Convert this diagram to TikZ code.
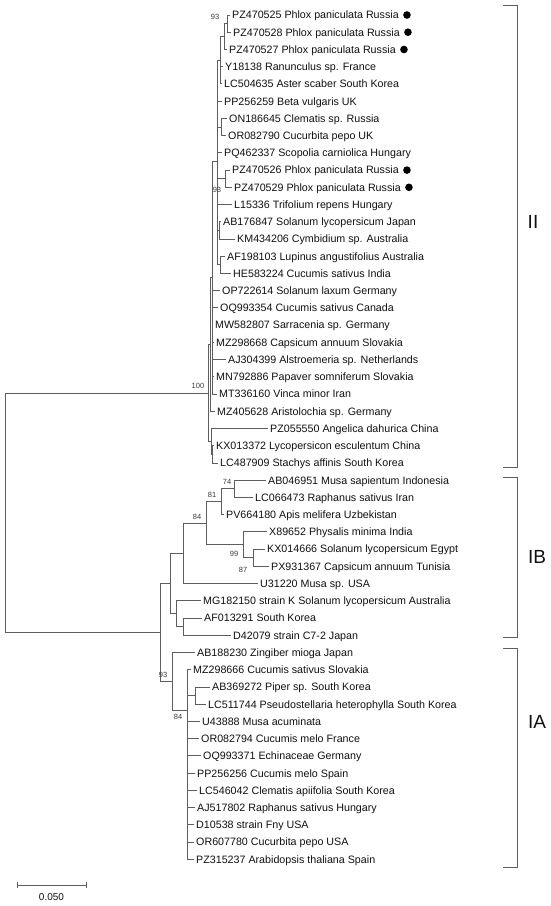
\documentclass[tikz,border=0pt]{standalone}
\usepackage{fontspec}
\setmainfont{Liberation Sans}
\definecolor{linegray}{HTML}{5E5E5E}
\definecolor{txt}{HTML}{111111}
\definecolor{bsgray}{HTML}{3A3A3A}
\begin{document}
\begin{tikzpicture}[x=1pt,y=-1pt,
  br/.style={draw=linegray, line width=0.9pt},
  leaf/.style={anchor=west, inner sep=0pt, text=txt, font=\fontsize{10.7}{12}\selectfont, text height=7.7pt, text depth=0pt},
  bs/.style={inner sep=0pt, text=bsgray, font=\fontsize{7.5}{8}\selectfont},
  dotmark/.style={circle, fill=black, inner sep=0pt, minimum size=7.6pt},
  grp/.style={inner sep=0pt, text=txt, font=\fontsize{19}{20}\selectfont},
  brk/.style={draw=linegray, line width=0.9pt}]
\useasboundingbox[fill=white] (0,0) rectangle (550,906);

% ---------- leaves ----------
\node[leaf] (l1)  at (232,15)    {PZ470525 Phlox paniculata Russia};
\node[leaf] (l2)  at (233,32.2)  {PZ470528 Phlox paniculata Russia};
\node[leaf] (l3)  at (229,49.5)  {PZ470527 Phlox paniculata Russia};
\node[leaf] (l4)  at (225,66.7)  {Y18138 Ranunculus sp. France};
\node[leaf] (l5)  at (224,83.9)  {LC504635 Aster scaber South Korea};
\node[leaf] (l6)  at (224,101.2) {PP256259 Beta vulgaris UK};
\node[leaf] (l7)  at (229,118.4) {ON186645 Clematis sp. Russia};
\node[leaf] (l8)  at (228,135.6) {OR082790 Cucurbita pepo UK};
\node[leaf] (l9)  at (224,152.8) {PQ462337 Scopolia carniolica Hungary};
\node[leaf] (l10) at (232,170.1) {PZ470526 Phlox paniculata Russia};
\node[leaf] (l11) at (234,187.3) {PZ470529 Phlox paniculata Russia};
\node[leaf] (l12) at (234,204.5) {L15336 Trifolium repens Hungary};
\node[leaf] (l13) at (223,221.8) {AB176847 Solanum lycopersicum Japan};
\node[leaf] (l14) at (237,239)   {KM434206 Cymbidium sp. Australia};
\node[leaf] (l15) at (227,256.2) {AF198103 Lupinus angustifolius Australia};
\node[leaf] (l16) at (233,273.5) {HE583224 Cucumis sativus India};
\node[leaf] (l17) at (222,290.7) {OP722614 Solanum laxum Germany};
\node[leaf] (l18) at (220,307.9) {OQ993354 Cucumis sativus Canada};
\node[leaf] (l19) at (215,325.1) {MW582807 Sarracenia sp. Germany};
\node[leaf] (l20) at (216,342.4) {MZ298668 Capsicum annuum Slovakia};
\node[leaf] (l21) at (228,359.6) {AJ304399 Alstroemeria sp. Netherlands};
\node[leaf] (l22) at (216,376.8) {MN792886 Papaver somniferum Slovakia};
\node[leaf] (l23) at (219,394.1) {MT336160 Vinca minor Iran};
\node[leaf] (l24) at (217,411.3) {MZ405628 Aristolochia sp. Germany};
\node[leaf] (l25) at (270,428.5) {PZ055550 Angelica dahurica China};
\node[leaf] (l26) at (216,445.8) {KX013372 Lycopersicon esculentum China};
\node[leaf] (l27) at (220,463)   {LC487909 Stachys affinis South Korea};
\node[leaf] (l28) at (268,480.2) {AB046951 Musa sapientum Indonesia};
\node[leaf] (l29) at (255,497.4) {LC066473 Raphanus sativus Iran};
\node[leaf] (l30) at (226,514.6) {PV664180 Apis melifera Uzbekistan};
\node[leaf] (l31) at (269,531.9) {X89652 Physalis minima India};
\node[leaf] (l32) at (267,549.1) {KX014666 Solanum lycopersicum Egypt};
\node[leaf] (l33) at (271,566.3) {PX931367 Capsicum annuum Tunisia};
\node[leaf] (l34) at (260,583.6) {U31220 Musa sp. USA};
\node[leaf] (l35) at (203,600.8) {MG182150 strain K Solanum lycopersicum Australia};
\node[leaf] (l36) at (204,618)   {AF013291 South Korea};
\node[leaf] (l37) at (233,635.3) {D42079 strain C7-2 Japan};
\node[leaf] (l38) at (197,652.5) {AB188230 Zingiber mioga Japan};
\node[leaf] (l39) at (193,669.8) {MZ298666 Cucumis sativus Slovakia};
\node[leaf] (l40) at (212,687)   {AB369272 Piper sp. South Korea};
\node[leaf] (l41) at (208,704.2) {LC511744 Pseudostellaria heterophylla South Korea};
\node[leaf] (l42) at (202,721.5) {U43888 Musa acuminata};
\node[leaf] (l43) at (201,738.7) {OR082794 Cucumis melo France};
\node[leaf] (l44) at (203,755.9) {OQ993371 Echinaceae Germany};
\node[leaf] (l45) at (197,773.2) {PP256256 Cucumis melo Spain};
\node[leaf] (l46) at (199,790.4) {LC546042 Clematis apiifolia South Korea};
\node[leaf] (l47) at (197,807.6) {AJ517802 Raphanus sativus Hungary};
\node[leaf] (l48) at (196,824.9) {D10538 strain Fny USA};
\node[leaf] (l49) at (196,842.1) {OR607780 Cucurbita pepo USA};
\node[leaf] (l50) at (196,859.3) {PZ315237 Arabidopsis thaliana Spain};

% ---------- dots ----------
\node[dotmark] (d1)  at ([xshift=8pt]l1.east)  {};
\node[dotmark] (d2)  at ([xshift=8pt]l2.east)  {};
\node[dotmark] (d3)  at ([xshift=8pt]l3.east)  {};
\node[dotmark] (d10) at ([xshift=8pt]l10.east) {};
\node[dotmark] (d11) at ([xshift=8pt]l11.east) {};

% ---------- internal nodes ----------
\coordinate (root) at (5,512.7);
\coordinate (nII)  at (208,393);
\coordinate (U)    at (210,344.5);
\coordinate (Ua)   at (212,277.7);
\coordinate (X)    at (217,161.3);
\coordinate (W)    at (220,60.3);
\coordinate (T3)   at (224,36.6);
\coordinate (n93)  at (227,23.6);
\coordinate (ONOR) at (221,127);
\coordinate (Ph2)  at (225,178.7);
\coordinate (ABKM) at (219,230.4);
\coordinate (AFHE) at (220,264.9);
\coordinate (L)    at (211,441.5);
\coordinate (L2)   at (212.5,454.4);
\coordinate (nI)   at (160,632.5);
\coordinate (Q)    at (170,583.6);
\coordinate (P1)   at (183,553.4);
\coordinate (n84)  at (206,523.3);
\coordinate (n81)  at (221,501.7);
\coordinate (n74)  at (234,488.8);
\coordinate (n99)  at (243,544.8);
\coordinate (n87)  at (253,557.7);
\coordinate (R2)   at (176,613.7);
\coordinate (nAD)  at (183,626.7);
\coordinate (A93)  at (172,681.4);
\coordinate (A84)  at (187,710.3);
\coordinate (ABLC) at (195,695.6);

% ---------- branches ----------
\draw[br] (root) |- (nII);
\draw[br] (root) |- (nI);
% cluster II
\draw[br] (nII) |- (U);
\draw[br] (nII) |- (L);
\draw[br] (U) |- (Ua);
\draw[br] (U) |- ([xshift=-2.5pt]l24.west);
\draw[br] (Ua) |- (X);
\foreach \k in {17,18,19,20,21,22,23} {\draw[br] (Ua) |- ([xshift=-2.5pt]l\k.west);}
\draw[br] (X) |- (W);
\draw[br] (X) |- ([xshift=-2.5pt]l6.west);
\draw[br] (X) |- (ONOR);
\draw[br] (X) |- ([xshift=-2.5pt]l9.west);
\draw[br] (X) |- (Ph2);
\draw[br] (X) |- ([xshift=-2.5pt]l12.west);
\draw[br] (X) |- (ABKM);
\draw[br] (X) |- (AFHE);
\draw[br] (W) |- (T3);
\draw[br] (W) |- ([xshift=-2.5pt]l4.west);
\draw[br] (W) |- ([xshift=-2.5pt]l5.west);
\draw[br] (T3) |- (n93);
\draw[br] (T3) |- ([xshift=-2.5pt]l3.west);
\draw[br] (n93) |- ([xshift=-2.5pt]l1.west);
\draw[br] (n93) |- ([xshift=-2.5pt]l2.west);
\draw[br] (ONOR) |- ([xshift=-2.5pt]l7.west);
\draw[br] (ONOR) |- ([xshift=-2.5pt]l8.west);
\draw[br] (Ph2) |- ([xshift=-2.5pt]l10.west);
\draw[br] (Ph2) |- ([xshift=-2.5pt]l11.west);
\draw[br] (ABKM) |- ([xshift=-2.5pt]l13.west);
\draw[br] (ABKM) |- ([xshift=-2.5pt]l14.west);
\draw[br] (AFHE) |- ([xshift=-2.5pt]l15.west);
\draw[br] (AFHE) |- ([xshift=-2.5pt]l16.west);
\draw[br] (L) |- ([xshift=-2.5pt]l25.west);
\draw[br] (L) |- (L2);
\draw[br] (L2) |- ([xshift=-2.5pt]l26.west);
\draw[br] (L2) |- ([xshift=-2.5pt]l27.west);
% cluster I
\draw[br] (nI) |- (Q);
\draw[br] (nI) |- (A93);
\draw[br] (Q) |- (P1);
\draw[br] (Q) |- (R2);
\draw[br] (P1) |- (n84);
\draw[br] (P1) |- ([xshift=-2.5pt]l34.west);
\draw[br] (n84) |- (n81);
\draw[br] (n84) |- (n99);
\draw[br] (n81) |- (n74);
\draw[br] (n81) |- ([xshift=-2.5pt]l30.west);
\draw[br] (n74) |- ([xshift=-2.5pt]l28.west);
\draw[br] (n74) |- ([xshift=-2.5pt]l29.west);
\draw[br] (n99) |- ([xshift=-2.5pt]l31.west);
\draw[br] (n99) |- (n87);
\draw[br] (n87) |- ([xshift=-2.5pt]l32.west);
\draw[br] (n87) |- ([xshift=-2.5pt]l33.west);
\draw[br] (R2) |- ([xshift=-2.5pt]l35.west);
\draw[br] (R2) |- (nAD);
\draw[br] (nAD) |- ([xshift=-2.5pt]l36.west);
\draw[br] (nAD) |- ([xshift=-2.5pt]l37.west);
\draw[br] (A93) |- ([xshift=-2.5pt]l38.west);
\draw[br] (A93) |- (A84);
\draw[br] (A84) |- ([xshift=-2.5pt]l39.west);
\draw[br] (A84) |- (ABLC);
\foreach \k in {42,43,44,45,46,47,48,49,50} {\draw[br] (A84) |- ([xshift=-2.5pt]l\k.west);}
\draw[br] (ABLC) |- ([xshift=-2.5pt]l40.west);
\draw[br] (ABLC) |- ([xshift=-2.5pt]l41.west);

% ---------- bootstrap values ----------
\node[bs] (b1)  at (215,17)  {93};
\node[bs] (b2)  at (217,190) {93};
\node[bs] (b3)  at (198,386) {100};
\node[bs] (b4)  at (227,482) {74};
\node[bs] (b5)  at (212,495) {81};
\node[bs] (b6)  at (197,517) {84};
\node[bs] (b7)  at (234,554) {99};
\node[bs] (b8)  at (243,570) {87};
\node[bs] (b9)  at (163,675) {93};
\node[bs] (b10) at (178,717) {84};

% ---------- cluster brackets ----------
\coordinate (IIt) at (517,5);   \coordinate (IIb) at (517,467);
\coordinate (IBt) at (517,477); \coordinate (IBb) at (517,637);
\coordinate (IAt) at (517,648); \coordinate (IAb) at (517,867);
\draw[brk] ([xshift=-14pt]IIt) -- (IIt) -- (IIb) -- ([xshift=-14pt]IIb);
\draw[brk] ([xshift=-14pt]IBt) -- (IBt) -- (IBb) -- ([xshift=-14pt]IBb);
\draw[brk] ([xshift=-14pt]IAt) -- (IAt) -- (IAb) -- ([xshift=-14pt]IAb);
\node[grp] (gII) at (533,222) {II};
\node[grp] (gIB) at (537,557) {IB};
\node[grp] (gIA) at (537,722) {IA};

% ---------- scale bar ----------
\coordinate (sb1) at (17,885);
\coordinate (sb2) at (86,885);
\draw[br] (sb1) -- (sb2);
\draw[br] ([yshift=-3pt]sb1) -- ([yshift=3pt]sb1);
\draw[br] ([yshift=-3pt]sb2) -- ([yshift=3pt]sb2);
\node[inner sep=0pt, text=txt, font=\fontsize{10}{11}\selectfont] (sbl) at (51.5,897) {0.050};
\end{tikzpicture}
\end{document}
